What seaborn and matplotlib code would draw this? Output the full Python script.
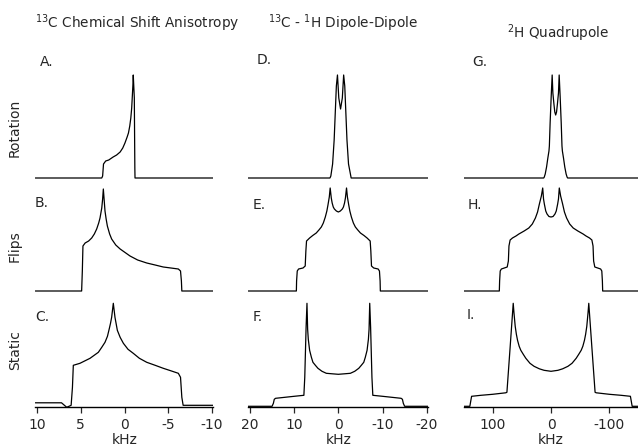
import matplotlib
matplotlib.use("Agg")
import matplotlib.pyplot as plt
import seaborn as sns

# ---- values (x in kHz, y = relative intensity) ----
csa_rot_khz = [10.2, 2.6, 2.5, 2.4, 2.15, 1.8, 1.3, 0.9, 0.5, 0.2, -0.05, -0.3, -0.45,
               -0.6, -0.72, -0.82, -0.9, -0.96, -1.0, -1.12, -1.18, -1.2, -10.1]
csa_rot_int = [0, 0, 0.02, 0.14, 0.17, 0.18, 0.21, 0.23, 0.26, 0.3, 0.35, 0.41, 0.45,
               0.52, 0.6, 0.7, 0.83, 0.93, 1.03, 0.8, 0.1, 0, 0]

csa_flip_khz = [10.2, 4.9, 4.82, 4.75, 4.5, 4.1, 3.75, 3.45, 3.18, 2.95, 2.8, 2.6, 2.5,
                2.42, 2.23, 2.1, 1.96, 1.7, 1.47, 1.0, 0.5, -0.63, -1.5, -2.54, -3.5,
                -4.43, -5.3, -6.15, -6.4, -6.5, -6.55, -10.1]
csa_flip_int = [0, 0, 0.2, 0.45, 0.48, 0.5, 0.53, 0.57, 0.62, 0.68, 0.73, 0.83, 0.92,
                1.02, 0.8, 0.72, 0.65, 0.57, 0.52, 0.46, 0.42, 0.35, 0.31, 0.28, 0.26,
                0.24, 0.23, 0.22, 0.2, 0.1, 0, 0]

csa_static_khz = [10.2, 7.2, 6.6, 6.1, 5.95, 5.85, 5.09, 3.94, 2.99, 2.6, 2.23, 1.95,
                  1.73, 1.6, 1.47, 1.28, 1.09, 0.82, 0.5, 0.13, -0.4, -1.0, -1.7, -2.54,
                  -3.5, -4.43, -5.3, -6.15, -6.4, -6.55, -6.7, -10.1]
csa_static_int = [0.045, 0.045, 0.0, 0.02, 0.2, 0.42, 0.44, 0.49, 0.55, 0.6, 0.65, 0.71,
                  0.79, 0.84, 0.9, 1.04, 0.9, 0.77, 0.7, 0.64, 0.58, 0.54, 0.49, 0.45,
                  0.42, 0.39, 0.365, 0.34, 0.3, 0.1, 0.02, 0.02]

dd_rot_khz = [20.4, 1.9, 1.7, 1.3, 0.95, 0.7, 0.45, 0.2, -0.1, -0.5, -0.9, -1.2,
              -1.45, -1.7, -1.95, -2.3, -2.9, -20.4]
dd_rot_int = [0, 0, 0.02, 0.14, 0.38, 0.65, 0.92, 1.03, 0.8, 0.69, 0.8, 1.03,
              0.92, 0.65, 0.38, 0.14, 0, 0]

dd_flip_khz = [20.4, 9.5, 9.45, 9.3, 9.0, 8.0, 7.5, 7.35, 7.2, 6.5, 5.8, 5.0, 4.4, 3.85,
               3.4, 2.95, 2.6, 2.35, 2.05, 1.85, 1.6, 1.4, 1.15, 0.9, 0.45, 0.0,
               -0.45, -0.9, -1.15, -1.4, -1.6, -1.85, -2.05, -2.35, -2.6, -2.95, -3.4,
               -3.85, -4.4, -5.0, -5.8, -6.5, -7.2, -7.35, -7.5, -8.0, -9.0, -9.3,
               -9.45, -9.5, -20.4]
dd_flip_int = [0, 0, 0.1, 0.2, 0.22, 0.23, 0.25, 0.4, 0.5, 0.53, 0.555, 0.58, 0.61, 0.64,
               0.68, 0.74, 0.8, 0.86, 0.94, 1.03, 0.93, 0.88, 0.84, 0.82, 0.8, 0.79,
               0.8, 0.82, 0.84, 0.88, 0.93, 1.03, 0.94, 0.86, 0.8, 0.74, 0.68,
               0.64, 0.61, 0.58, 0.555, 0.53, 0.5, 0.4, 0.25, 0.23, 0.22, 0.2,
               0.1, 0, 0]

dd_static_khz = [20.4, 15.0, 14.7, 14.5, 14.2, 10.0, 7.8, 7.6, 7.3, 7.1, 6.95, 6.8, 6.5,
                 6.1, 5.75, 5.2, 4.62, 3.7, 2.72, 1.4, 0.0, -1.4, -2.72, -3.7, -4.62,
                 -5.2, -5.75, -6.1, -6.5, -6.8, -6.95, -7.1, -7.3, -7.6, -7.8, -10.0,
                 -14.2, -14.5, -14.7, -15.0, -20.4]
dd_static_int = [0.01, 0.01, 0.04, 0.08, 0.09, 0.11, 0.12, 0.3, 0.8, 1.04, 0.78, 0.68, 0.57,
                 0.5, 0.45, 0.42, 0.39, 0.36, 0.34, 0.335, 0.33, 0.335, 0.34, 0.36, 0.39,
                 0.42, 0.45, 0.5, 0.57, 0.68, 0.78, 1.04, 0.8, 0.3, 0.12, 0.11,
                 0.09, 0.08, 0.04, 0.01, 0.01]

quad_rot_khz = [149, 12.5, 11.5, 9.9, 7.6, 5.4, 3.5, 2.8, 1.5, -0.3, -2.0, -3.2, -5.0,
                -6.5, -8.0, -9.5, -11.0, -12.8, -14.0, -15.7, -17.5, -18.8, -19.5,
                -21.4, -23.6, -25.9, -27.5, -28.5, -149]
quad_rot_int = [0, 0, 0.01, 0.04, 0.11, 0.2, 0.27, 0.32, 0.55, 0.81, 1.03, 0.85, 0.74,
                0.66, 0.63, 0.66, 0.74, 0.85, 1.03, 0.81, 0.55, 0.32, 0.27,
                0.2, 0.11, 0.04, 0.01, 0, 0]

quad_flip_khz = [149, 88.5, 88, 87, 85, 80, 75, 73, 72, 70, 66, 60, 55, 46, 38, 32,
                 26.7, 23, 19.9, 16.5, 14.2, 12.8, 11.4, 9, 6.8, 3.5, 0,
                 -3.5, -6.8, -9, -11.4, -12.8, -14.2, -16.5, -19.9, -23, -26.7, -32,
                 -38, -46, -55, -60, -66, -70, -72, -73, -75, -80, -85, -87, -88,
                 -88.5, -149]
quad_flip_int = [0, 0, 0.1, 0.2, 0.22, 0.23, 0.24, 0.3, 0.45, 0.51, 0.53, 0.55, 0.57,
                 0.6, 0.63, 0.67, 0.73, 0.79, 0.87, 0.95, 1.03, 0.92, 0.87, 0.8, 0.77,
                 0.745, 0.74, 0.745, 0.77, 0.8, 0.87, 0.92, 1.03, 0.95, 0.87, 0.79,
                 0.73, 0.67, 0.63, 0.6, 0.57, 0.55, 0.53, 0.51, 0.45, 0.3, 0.24, 0.23,
                 0.22, 0.2, 0.1, 0, 0]

quad_static_khz = [149, 139, 137.5, 136, 120, 100, 77.5, 75.5, 70, 66.5, 64.7, 63.5,
                   61.3, 59.3, 57.3, 54.5, 51.7, 47.5, 43.1, 36, 29, 20, 11.9, 0,
                   -11.9, -20, -29, -36, -43.1, -47.5, -51.7, -54.5, -57.3, -59.3,
                   -61.3, -63.5, -64.7, -66.5, -70, -75.5, -77.5, -100, -120, -136,
                   -137.5, -139, -149]
quad_static_int = [0.01, 0.01, 0.06, 0.11, 0.12, 0.13, 0.145, 0.15, 0.6, 0.89, 1.04,
                   0.95, 0.81, 0.73, 0.67, 0.61, 0.57, 0.53, 0.49, 0.44, 0.41, 0.385,
                   0.37, 0.36, 0.37, 0.385, 0.41, 0.44, 0.49, 0.53, 0.57, 0.61, 0.67,
                   0.73, 0.81, 0.95, 1.04, 0.89, 0.6, 0.15, 0.145, 0.13, 0.12, 0.11,
                   0.06, 0.01, 0.01]

col_titles = [r"$^{13}$C Chemical Shift Anisotropy",
              r"$^{13}$C - $^{1}$H Dipole-Dipole",
              r"$^{2}$H Quadrupole"]
row_labels = ["Rotation", "Flips", "Static"]
panel_letters = [["A.", "B.", "C."], ["D.", "E.", "F."], ["G.", "H.", "I."]]
tick_values = [[10, 5, 0, -5, -10], [20, 10, 0, -10, -20], [100, 0, -100]]
tick_labels = [["10", "5", "0", "-5", "-10"], ["20", "10", "0", "-10", "-20"],
               ["100", "0", "-100"]]

spectra = [
    [(csa_rot_khz, csa_rot_int), (csa_flip_khz, csa_flip_int), (csa_static_khz, csa_static_int)],
    [(dd_rot_khz, dd_rot_int), (dd_flip_khz, dd_flip_int), (dd_static_khz, dd_static_int)],
    [(quad_rot_khz, quad_rot_int), (quad_flip_khz, quad_flip_int), (quad_static_khz, quad_static_int)],
]

sns.set_style("white")
plt.rcParams["font.family"] = ["DejaVu Sans"]
plt.rcParams["mathtext.fontset"] = "dejavusans"

W, H = 638, 446
fig = plt.figure(figsize=(W / 100, H / 100), dpi=100)

# layout in pixels
col_px = [(35.25, 212.9), (248.2, 428.5), (464, 638)]
col_xlim = [(10.2, -10.1), (20.4, -20.4), (149, -149)]
row_base = [178, 291, 407.3]
row_ylim = [(-0.05, 1.08), (-0.05, 1.08), (0.0, 1.09)]


def fx(px):
    return px / W


def fy(py):
    return 1 - py / H


for c in range(3):
    for r in range(3):
        left, right = col_px[c]
        y0, y1 = row_ylim[r]
        top = row_base[r] - y1 * 100
        bottom = row_base[r] - y0 * 100
        ax = fig.add_axes([fx(left), fy(bottom), (right - left) / W, (bottom - top) / H])
        ax.patch.set_alpha(0)
        xs, ys = spectra[c][r]
        sns.lineplot(x=xs, y=ys, ax=ax, color="black", lw=0.9,
                     sort=False, estimator=None)
        ax.set_xlim(*col_xlim[c])
        ax.set_ylim(y0, y1)
        ax.set_yticks([])
        for s in ["left", "right", "top"]:
            ax.spines[s].set_visible(False)
        if r == 2:
            ax.spines["bottom"].set_color("black")
            ax.spines["bottom"].set_linewidth(1.0)
            ax.set_xticks(tick_values[c])
            ax.set_xticklabels(tick_labels[c], fontsize=10)
            ax.tick_params(axis="x", direction="out", length=4, width=0.9,
                           pad=4, bottom=True)
        else:
            ax.spines["bottom"].set_visible(False)
            ax.set_xticks([])

# column titles
fig.text(fx(35), fy(23), col_titles[0], fontsize=9.8, va="center", ha="left")
fig.text(fx(268), fy(23), col_titles[1], fontsize=9.8, va="center", ha="left")
fig.text(fx(507), fy(33), col_titles[2], fontsize=9.8, va="center", ha="left")

# panel letters
letter_pos = [[(40, 62), (35, 203), (35, 317)],
              [(257, 60), (253, 205), (253, 317)],
              [(472, 62), (468, 205), (467, 315)]]
for c in range(3):
    for r in range(3):
        x, y = letter_pos[c][r]
        fig.text(fx(x), fy(y), panel_letters[c][r], fontsize=10, va="center", ha="left")

# row labels
for label, y in zip(row_labels, [128, 246, 350]):
    fig.text(fx(15), fy(y), label, fontsize=10, rotation=90, va="center", ha="center")

# x labels
for xc in [124.5, 338.35, 551]:
    fig.text(fx(xc), fy(440), "kHz", fontsize=10, va="center", ha="center")

fig.savefig("out.png", dpi=100)
